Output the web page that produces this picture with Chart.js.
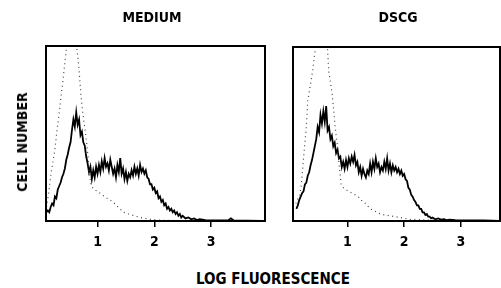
<!DOCTYPE html>
<html>
<head>
<meta charset="utf-8">
<script src="https://cdn.jsdelivr.net/npm/chart.js@4.4.1/dist/chart.umd.min.js"></script>
<style>
  body { margin: 0; background: #fff; }
  #wrap { position: relative; width: 501px; height: 288px; overflow: hidden; font-family: 'DejaVu Sans Condensed', 'DejaVu Sans', sans-serif; font-weight: bold; color: #000; }
  canvas { position: absolute; top: 0; }
  .lbl { position: absolute; font-size: 14px; white-space: nowrap; transform: translate(-50%, -50%); }
</style>
</head>
<body>
<div id="wrap">
  <canvas id="chart-medium" width="275" height="260" style="left:0"></canvas>
  <canvas id="chart-dscg" width="221" height="260" style="left:280px"></canvas>
  <div class="lbl" style="left:152px; top:17px;">MEDIUM</div>
  <div class="lbl" style="left:398px; top:17px;">DSCG</div>
  <div class="lbl" style="left:22px; top:142px; transform: translate(-50%, -50%) rotate(-90deg);">CELL NUMBER</div>
  <div class="lbl" style="left:273px; top:279px; font-size:15px;">LOG FLUORESCENCE</div>
</div>
<script>
// histogram channels (log fluorescence) shared by both stained samples
const channels = [
  0.100, 0.125, 0.150, 0.175, 0.200, 0.225, 0.250, 0.275, 0.300, 0.325,
  0.350, 0.375, 0.400, 0.425, 0.450, 0.475, 0.500, 0.525, 0.550, 0.575,
  0.600, 0.625, 0.650, 0.675, 0.700, 0.725, 0.750, 0.775, 0.800, 0.825,
  0.850, 0.875, 0.900, 0.925, 0.950, 0.975, 1.000, 1.025, 1.050, 1.075,
  1.100, 1.125, 1.150, 1.175, 1.200, 1.225, 1.250, 1.275, 1.300, 1.325,
  1.350, 1.375, 1.400, 1.425, 1.450, 1.475, 1.500, 1.525, 1.550, 1.575,
  1.600, 1.625, 1.650, 1.675, 1.700, 1.725, 1.750, 1.775, 1.800, 1.825,
  1.850, 1.875, 1.900, 1.925, 1.950, 1.975, 2.000, 2.025, 2.050, 2.075,
  2.100, 2.125, 2.150, 2.175, 2.200, 2.225, 2.250, 2.275, 2.300, 2.325,
  2.350, 2.375, 2.400, 2.425, 2.450, 2.475, 2.500,
  2.55, 2.60, 2.65, 2.70, 2.75, 2.80, 2.90, 3.00, 3.30, 3.35, 3.40, 3.90
];

const mediumCells = [
  5, 6, 5, 8, 10, 9, 14, 13, 18, 20,
  22, 25, 27, 30, 35, 38, 42, 45, 52, 58,
  54, 62, 55, 58, 49, 51, 45, 43, 37, 33,
  28, 31, 24, 29, 25, 31, 27, 32, 28, 34,
  30, 36, 31, 33, 29, 35, 31, 27, 30, 25,
  32, 28, 36, 27, 30, 24, 28, 23, 27, 25,
  29, 26, 31, 27, 30, 26, 32, 28, 30, 27,
  29, 25, 24, 21, 21, 18, 19, 16, 17, 13,
  14, 11, 12, 9, 10, 7, 8, 6, 7, 5,
  6, 4, 5, 3, 4, 2, 3,
  1.5, 2, 1, 1.5, 0.5, 1, 0.5, 0.3, 0.3, 1.5, 0.3, 0
];

const dscgCells = [
  7, 9, 12, 14, 16, 17, 21, 22, 26, 28,
  32, 35, 39, 43, 47, 54, 51, 61, 56, 63,
  57, 66, 52, 54, 47, 49, 43, 45, 39, 41,
  36, 37, 31, 34, 30, 35, 31, 36, 33, 37,
  34, 38, 32, 34, 28, 31, 26, 30, 27, 25,
  29, 27, 33, 28, 34, 30, 36, 31, 33, 28,
  31, 29, 34, 30, 36, 29, 33, 28, 32, 29,
  31, 28, 30, 27, 29, 26, 27, 24, 23, 19,
  18, 15, 14, 12, 11, 9, 9, 7, 7, 5,
  5, 3.5, 4, 2.5, 2.5, 1.5, 2,
  1, 1.5, 0.8, 1, 0.5, 0.8, 0.5, 0.3, 0.3, 0.3, 0.3, 0
];

// unstained controls (dotted)
const mediumCtrlX = [
  0.10, 0.14, 0.18, 0.22, 0.25, 0.28, 0.31, 0.34, 0.36, 0.39,
  0.41, 0.43, 0.45, 0.48, 0.52, 0.56, 0.60, 0.63, 0.66, 0.68,
  0.71, 0.74, 0.76, 0.80, 0.83, 0.86, 0.89, 0.94, 1.00, 1.08,
  1.17, 1.27, 1.36, 1.46, 1.60, 1.75, 1.92, 2.10, 2.40, 3.90
];
const mediumCtrl = [
  8, 16, 27, 35, 41, 50, 58, 66, 72, 80,
  86, 92, 98, 108, 116, 118, 110, 100, 92, 84,
  71, 62, 57, 47, 38, 26, 20, 18, 17, 15,
  13, 11, 8, 5, 3.5, 2, 1, 0.5, 0.2, 0
];

const dscgCtrlX = [
  0.09, 0.13, 0.16, 0.19, 0.22, 0.25, 0.27, 0.30, 0.33, 0.36,
  0.39, 0.41, 0.44, 0.47, 0.52, 0.57, 0.62, 0.65, 0.67, 0.70,
  0.73, 0.76, 0.78, 0.81, 0.83, 0.86, 0.89, 0.93, 0.97, 1.03,
  1.08, 1.14, 1.19, 1.24, 1.29, 1.35, 1.40, 1.47, 1.54, 1.65,
  1.75, 1.93, 2.10, 2.45, 3.70
];
const dscgCtrl = [
  10, 13, 15, 22, 34, 45, 52, 69, 75, 81,
  87, 93, 100, 108, 116, 118, 110, 98, 86, 80,
  73, 63, 55, 47, 41, 30, 21, 19, 18, 17,
  16, 15, 14, 12, 11, 9, 7, 6, 4.5, 3.5,
  3, 2, 1, 0.5, 0
];

const xTicks = [1, 2, 3];

function toPoints(xs, ys) {
  return xs.map((x, i) => ({ x, y: ys[i] }));
}

// thick box around the plot area
const framePlugin = {
  id: 'frame',
  afterDraw(chart) {
    const { ctx, chartArea: a } = chart;
    ctx.save();
    ctx.strokeStyle = '#000';
    ctx.lineWidth = 2;
    ctx.strokeRect(a.left, a.top, a.right - a.left, a.bottom - a.top);
    ctx.restore();
  },
};

function makeChart(id, cells, ctrlX, ctrl, xMin, xMax, padding) {
  return new Chart(document.getElementById(id), {
    type: 'line',
    data: {
      datasets: [
        {
          data: toPoints(ctrlX, ctrl),
          borderColor: '#444',
          borderWidth: 1.2,
          borderDash: [1, 3.5],
          pointRadius: 0,
          tension: 0,
        },
        {
          data: toPoints(channels, cells),
          borderColor: '#000',
          borderWidth: 1.8,
          pointRadius: 0,
          tension: 0,
        },
      ],
    },
    options: {
      responsive: false,
      devicePixelRatio: 1,
      animation: false,
      layout: { padding },
      plugins: { legend: { display: false }, tooltip: { enabled: false } },
      scales: {
        x: {
          type: 'linear',
          min: xMin,
          max: xMax,
          afterBuildTicks: (s) => { s.ticks = xTicks.map((v) => ({ value: v })); },
          afterFit: (s) => { s.height = 30; },
          border: { display: false },
          grid: { drawOnChartArea: false, drawTicks: true, tickLength: 6, color: '#000', lineWidth: 1.5 },
          ticks: { color: '#000', padding: 7, font: { family: 'DejaVu Sans Condensed', weight: 'bold', size: 14 } },
        },
        y: { display: false, min: 0, max: 100 },
      },
    },
    plugins: [framePlugin],
  });
}

makeChart('chart-medium', mediumCells, mediumCtrlX, mediumCtrl, 0.0925, 3.95,
  { left: 46, right: 10, top: 46, bottom: 9 });
makeChart('chart-dscg', dscgCells, dscgCtrlX, dscgCtrl, 0.04, 3.69,
  { left: 13, right: 1, top: 47, bottom: 9 });
</script>
</body>
</html>
